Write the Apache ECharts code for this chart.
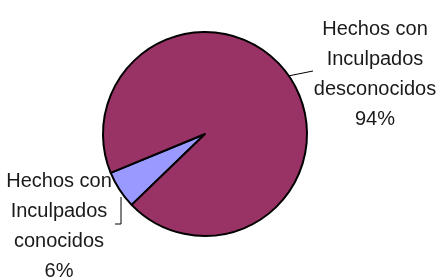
<!DOCTYPE html>
<html>
<head>
<meta charset="utf-8">
<script src="https://cdn.jsdelivr.net/npm/echarts@6/dist/echarts.min.js"></script>
<style>
  html, body { margin: 0; padding: 0; background: #fff; }
  #chart { width: 440px; height: 278px; }
</style>
</head>
<body>
<div id="chart"></div>
<script>
// categorias y valores (porcentajes)
var categories = ["Hechos con\nInculpados\nconocidos", "Hechos con\nInculpados\ndesconocidos"];
var values = [6, 94];
var colors = ["#9999ff", "#993366"];

var chart = echarts.init(document.getElementById("chart"));

var pieData = categories.map(function (name, i) {
    return { name: name, value: values[i], itemStyle: { color: colors[i] } };
});

var option = {
    animation: false,
    series: [
        {
            type: "pie",
            center: [205, 134],
            radius: 102,
            startAngle: 224,
            clockwise: true,
            data: pieData,
            itemStyle: { borderColor: "#000", borderWidth: 2 },
            label: {
                show: true,
                formatter: "{b}\n{d}%",
                fontFamily: "Liberation Sans",
                fontSize: 20,
                lineHeight: 30,
                color: "#1a1a1a",
                align: "center",
                overflow: "none"
            },
            labelLine: { show: true, lineStyle: { color: "#000", width: 1 } },
            labelLayout: function (params) {
                if (params.dataIndex === 0) {
                    return {
                        x: 59, y: 226, align: "center", verticalAlign: "middle",
                        labelLinePoints: [[121, 197], [121, 224], [115, 224]]
                    };
                }
                return {
                    x: 375, y: 74, align: "center", verticalAlign: "middle",
                    labelLinePoints: [[288, 76], [313, 71]]
                };
            }
        }
    ]
};

chart.setOption(option);
</script>
</body>
</html>
